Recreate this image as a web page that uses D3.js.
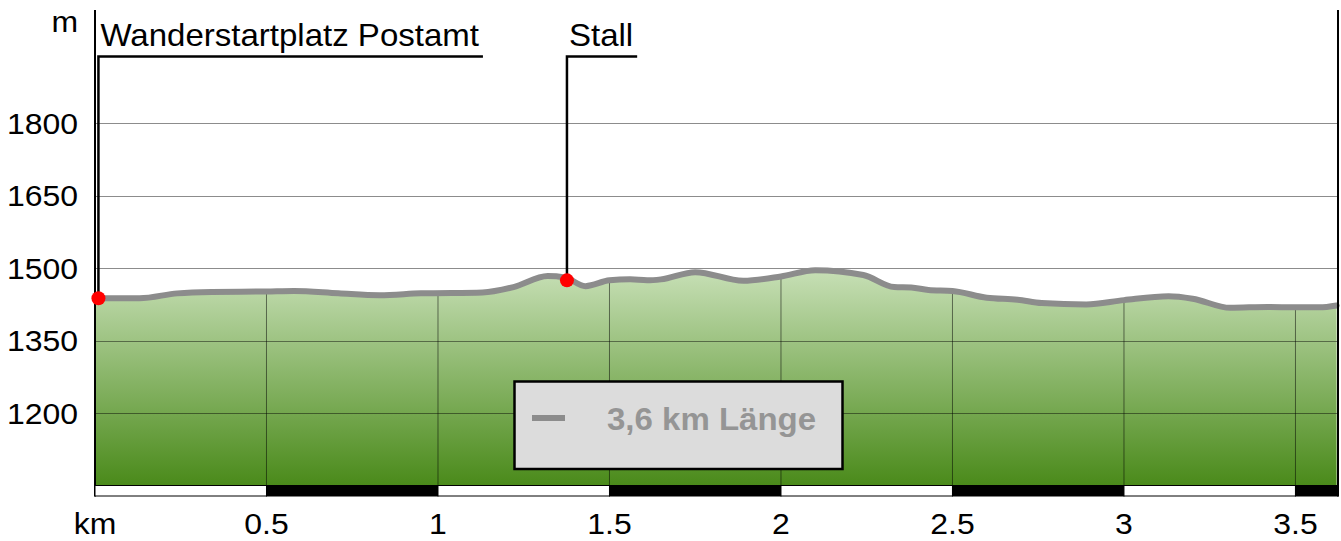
<!DOCTYPE html>
<html lang="de">
<head>
<meta charset="UTF-8">
<title>Höhenprofil</title>
<script src="https://cdn.jsdelivr.net/npm/d3@7"></script>
<style>
    html, body { margin: 0; padding: 0; background: #fff; }
    svg { display: block; font-family: "Liberation Sans", Arial, sans-serif; }
</style>
</head>
<body>
<svg id="chart" width="1341" height="541"></svg>
<script>
// profile data: distance in km, elevation in m
const distKm = [0, 0.13, 0.24, 0.34, 0.5, 0.58, 0.71, 0.83, 0.95, 1.13, 1.22, 1.32, 1.37, 1.43, 1.5, 1.56, 1.61, 1.65, 1.75, 1.89, 2.0, 2.1, 2.24, 2.33, 2.38, 2.43, 2.5, 2.6, 2.69, 2.76, 2.89, 3.0, 3.13, 3.2, 3.31, 3.42, 3.5, 3.57, 3.62];
const elevation = [1438, 1438, 1448, 1451, 1452, 1453, 1448, 1444, 1448, 1450, 1461, 1484, 1481, 1463, 1475, 1477, 1475, 1477, 1492, 1474, 1483, 1496, 1486, 1461, 1460, 1455, 1453, 1439, 1435, 1428, 1425, 1434, 1442, 1437, 1418, 1420, 1419, 1419, 1423];

// waypoints
const waypointNames = ["Wanderstartplatz Postamt", "Stall"];
const waypointKm = [0.01, 1.376];
const waypointElev = [1438, 1475];

// axes
const yTicks = [1200, 1350, 1500, 1650, 1800];
const xTicks = [0.5, 1, 1.5, 2, 2.5, 3, 3.5];
const xTickLabels = ["0.5", "1", "1.5", "2", "2.5", "3", "3.5"];
const barSegments = [0, 0.5, 1, 1.5, 2, 2.5, 3, 3.5];
const xUnit = "km";
const yUnit = "m";
const legendText = "3,6 km Länge";

const svg = d3.select("#chart");
const plotLeft = 95, plotRight = 1338, plotTop = 10, plotBottom = 485.5;
const stretch = 1.065; // the original lettering is a bit wider than Arial

const x = d3.scaleLinear().domain([0, 3.624]).range([plotLeft, plotRight]);
const y = d3.scaleLinear().domain([1050, 2035]).range([plotBottom, plotTop]);

const profile = distKm.map((d, i) => ({ km: d, ele: elevation[i] }));

// text placed at (tx, ty) and stretched horizontally around that point
function label(parent, tx, ty, str, size, anchor) {
    return parent.append("text")
        .attr("transform", `translate(${tx},${ty}) scale(${stretch},1)`)
        .attr("text-anchor", anchor || "start")
        .attr("font-size", size)
        .text(str);
}

// gradient for the area
const defs = svg.append("defs");
const grad = defs.append("linearGradient")
    .attr("id", "fillGrad")
    .attr("gradientUnits", "userSpaceOnUse")
    .attr("x1", 0).attr("x2", 0)
    .attr("y1", y(1500)).attr("y2", plotBottom);
grad.append("stop").attr("offset", "0%").attr("stop-color", "#c8e0b7");
grad.append("stop").attr("offset", "100%").attr("stop-color", "#4a8a1a");

const area = d3.area()
    .x(d => x(d.km))
    .y0(plotBottom)
    .y1(d => y(d.ele))
    .curve(d3.curveMonotoneX);

const line = d3.line()
    .x(d => x(d.km))
    .y(d => y(d.ele))
    .curve(d3.curveMonotoneX);

defs.append("clipPath").attr("id", "areaClip")
    .append("path").attr("d", area(profile));

svg.append("path")
    .attr("d", area(profile))
    .attr("fill", "url(#fillGrad)");

// vertical grid only inside the filled area
svg.append("g")
    .attr("clip-path", "url(#areaClip)")
    .selectAll("line")
    .data(xTicks)
    .join("line")
    .attr("x1", d => x(d)).attr("x2", d => x(d))
    .attr("y1", plotTop).attr("y2", plotBottom)
    .attr("stroke", "#000")
    .attr("stroke-opacity", 0.5)
    .attr("stroke-width", 1);

// horizontal grid
svg.append("g")
    .selectAll("line")
    .data(yTicks)
    .join("line")
    .attr("x1", plotLeft).attr("x2", plotRight)
    .attr("y1", d => Math.round(y(d)) + 0.5).attr("y2", d => Math.round(y(d)) + 0.5)
    .attr("stroke", "#000")
    .attr("stroke-opacity", 0.45)
    .attr("stroke-width", 1);

// profile line
svg.append("path")
    .attr("d", line(profile))
    .attr("fill", "none")
    .attr("stroke", "#8c8c8c")
    .attr("stroke-width", 6)
    .attr("stroke-linejoin", "round")
    .attr("stroke-linecap", "round");

// frame lines
svg.append("line")
    .attr("x1", plotLeft).attr("x2", plotLeft).attr("y1", plotTop).attr("y2", plotBottom + 11)
    .attr("stroke", "#000").attr("stroke-width", 2);
svg.append("line")
    .attr("x1", plotRight).attr("x2", plotRight).attr("y1", plotTop).attr("y2", plotBottom + 11)
    .attr("stroke", "#000").attr("stroke-width", 2);

// distance bar
svg.append("g")
    .selectAll("rect")
    .data(barSegments)
    .join("rect")
    .attr("x", d => x(d))
    .attr("y", plotBottom)
    .attr("width", d => Math.min(x(d + 0.5), plotRight) - x(d))
    .attr("height", 10.5)
    .attr("fill", (d, i) => i % 2 ? "#000" : "#fff")
    .attr("stroke", "#000")
    .attr("stroke-width", 1);

// y labels
const yAxisG = svg.append("g");
yTicks.forEach(v => label(yAxisG, 78, y(v) + 10.5, v, 30, "end"));
label(yAxisG, 78, 32, yUnit, 30, "end");

// x labels
const xAxisG = svg.append("g");
xTicks.forEach((v, i) => label(xAxisG, x(v), 534, xTickLabels[i], 30, "middle"));
label(xAxisG, x(0), 534, xUnit, 30, "middle");

// waypoints with leader lines
const leaderY = 56.5;
waypointNames.forEach((name, i) => {
    const px = x(waypointKm[i]);
    const py = y(waypointElev[i]);
    const t = label(svg, px + 2, 46, name, 31, "start");
    const w = t.node().getComputedTextLength() * stretch;
    svg.append("path")
        .attr("d", `M${px},${py} V${leaderY} H${px + w + 6}`)
        .attr("fill", "none")
        .attr("stroke", "#000")
        .attr("stroke-width", 2.5);
    svg.append("circle")
        .attr("cx", px).attr("cy", py).attr("r", 7)
        .attr("fill", "#ff0000");
});

// legend
const lg = svg.append("g");
lg.append("rect")
    .attr("x", 514.5).attr("y", 381.5)
    .attr("width", 328).attr("height", 87.5)
    .attr("fill", "#dcdcdc")
    .attr("stroke", "#000")
    .attr("stroke-width", 2.5);
lg.append("line")
    .attr("x1", 532).attr("x2", 565)
    .attr("y1", 418).attr("y2", 418)
    .attr("stroke", "#8c8c8c")
    .attr("stroke-width", 6);
label(lg, 607, 430, legendText, 31, "start")
    .attr("font-weight", "bold")
    .attr("fill", "#959595");
</script>
</body>
</html>
